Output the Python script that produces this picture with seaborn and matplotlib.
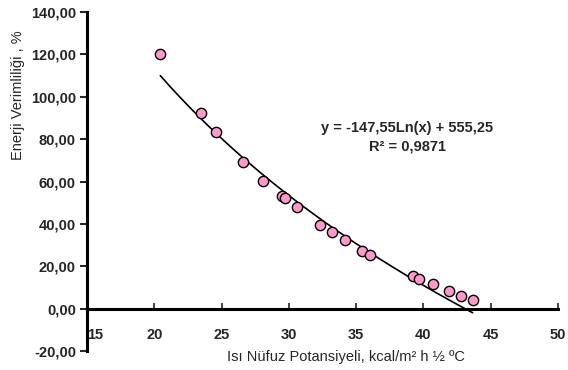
import numpy as np
import pandas as pd
import matplotlib
matplotlib.use("Agg")
import matplotlib.pyplot as plt
import seaborn as sns

# values
isi_nufuz = [20.45, 23.5, 24.6, 26.6, 28.1, 29.5, 29.7, 30.6, 32.3, 33.2,
             34.2, 35.45, 36.0, 39.2, 39.7, 40.7, 41.9, 42.8, 43.65]
enerji_verim = [120.1, 92.4, 83.4, 69.2, 60.4, 53.0, 52.0, 47.8, 39.5, 36.2,
                32.3, 27.2, 25.5, 15.4, 13.9, 11.5, 8.2, 5.8, 4.3]

# logarithmic trendline coefficients (from the chart's equation)
trend_a = -147.55
trend_b = 555.25
trend_label = "y = -147,55Ln(x) + 555,25\nR² = 0,9871"

x_ticks = [15, 20, 25, 30, 35, 40, 45, 50]
y_ticks = [-20, 0, 20, 40, 60, 80, 100, 120, 140]

df = pd.DataFrame({"x": isi_nufuz, "y": enerji_verim})
xs = np.linspace(min(isi_nufuz), max(isi_nufuz), 200)
trend = pd.DataFrame({"x": xs, "y": trend_a * np.log(xs) + trend_b})

sns.set_style("white")
plt.rcParams["font.family"] = ["Liberation Sans", "DejaVu Sans"]

fig = plt.figure(figsize=(5.68, 3.70), dpi=100)
ax = fig.add_axes([87 / 568, 1 - 351 / 370, (558 - 87) / 568, (351 - 12) / 370])

sns.lineplot(data=trend, x="x", y="y", ax=ax, color="black", linewidth=1.2)
sns.scatterplot(data=df, x="x", y="y", ax=ax, color="#FF99CC", edgecolor="black",
                linewidth=1.0, s=55, zorder=3)

ax.set_xlim(15, 50)
ax.set_ylim(-20, 140)
ax.set_xticks(x_ticks)
ax.set_yticks(y_ticks)
ax.set_xticklabels([str(t) for t in x_ticks])
ax.set_yticklabels([f"{t:.2f}".replace(".", ",") for t in y_ticks])

for side in ["top", "right"]:
    ax.spines[side].set_visible(False)
ax.spines["left"].set_linewidth(2.2)
ax.spines["left"].set_color("black")
ax.spines["bottom"].set_position(("data", 0))
ax.spines["bottom"].set_linewidth(2.2)
ax.spines["bottom"].set_color("black")

ax.tick_params(axis="y", direction="out", length=5, width=1.5, pad=3,
               labelsize=10.5, left=True)
ax.tick_params(axis="x", direction="in", length=4, width=1.2, pad=14,
               labelsize=10.5, bottom=True)
for lab in ax.get_xticklabels() + ax.get_yticklabels():
    lab.set_fontweight("bold")
ax.get_xticklabels()[0].set_horizontalalignment("left")

ax.set_xlabel("Isı Nüfuz Potansiyeli, kcal/m² h ½ ºC", fontsize=10.5)
ax.set_ylabel("Enerji Verimliliği , %", fontsize=10.5)
ax.xaxis.set_label_coords((346 - 87) / (558 - 87), (351 - 357) / (351 - 12))
ax.yaxis.set_label_coords((18 - 87) / (558 - 87), (351 - 95) / (351 - 12))
ax.xaxis.label.set_verticalalignment("center")
ax.yaxis.label.set_verticalalignment("center")

ax.text(38.8, 81.0, trend_label, ha="center", va="center", fontsize=10.5,
        fontweight="bold", linespacing=1.45)

ax.grid(False)
fig.savefig("out.png", dpi=100)
